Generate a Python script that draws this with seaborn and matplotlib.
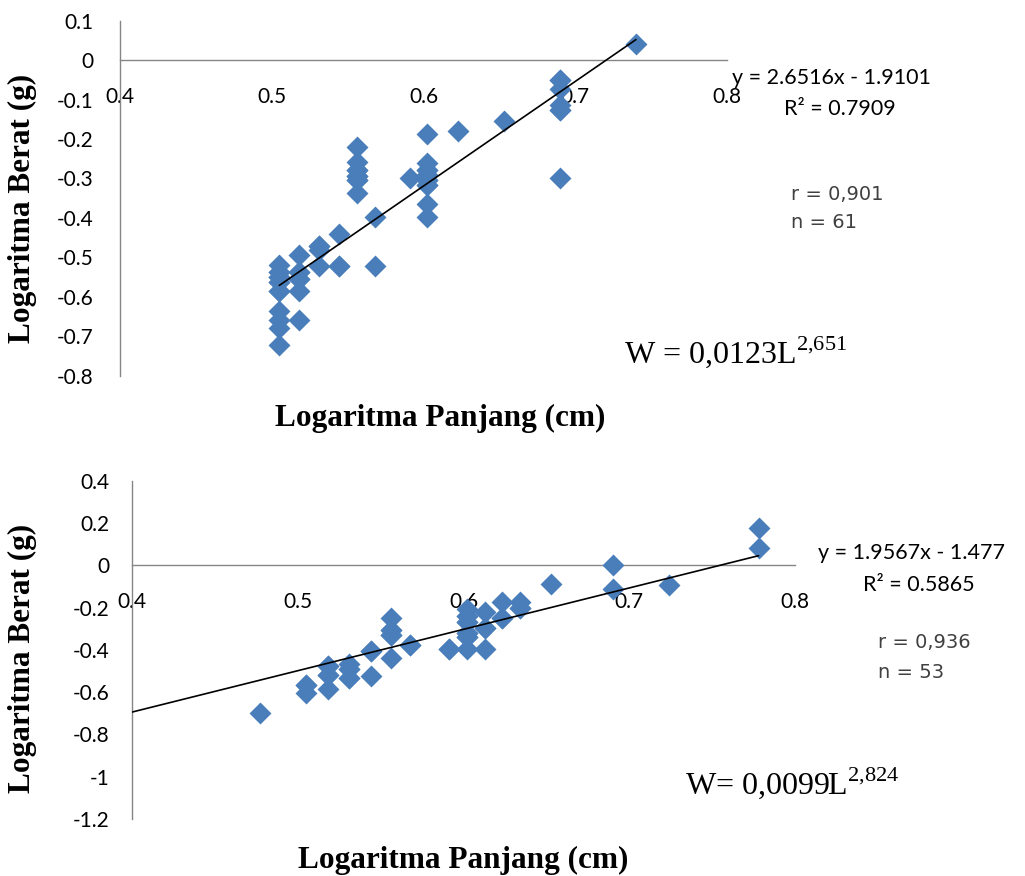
import numpy as np
import pandas as pd
import seaborn as sns
import matplotlib
matplotlib.use("Agg")
import matplotlib.pyplot as plt

# ---------------- data ----------------
top_log_length = [
    0.740,
    0.690, 0.690, 0.690, 0.690, 0.690,
    0.653, 0.623, 0.602, 0.591,
    0.602, 0.602, 0.602, 0.602, 0.602, 0.602, 0.602,
    0.556, 0.556, 0.556, 0.556, 0.556, 0.556,
    0.568, 0.568,
    0.544, 0.544,
    0.531, 0.531, 0.531,
    0.518, 0.518, 0.518, 0.518, 0.518,
    0.505, 0.505, 0.505, 0.505, 0.505, 0.505, 0.505, 0.505, 0.505,
    # overlapping (hidden) observations
    0.505, 0.505, 0.505, 0.505, 0.518, 0.518, 0.556, 0.556, 0.556,
    0.602, 0.602, 0.602, 0.602, 0.531, 0.690, 0.690, 0.544,
]
top_log_weight = [
    0.042,
    -0.051, -0.072, -0.114, -0.127, -0.300,
    -0.154, -0.180, -0.186, -0.300,
    -0.262, -0.279, -0.292, -0.305, -0.317, -0.364, -0.398,
    -0.220, -0.258, -0.279, -0.294, -0.305, -0.338,
    -0.398, -0.523,
    -0.442, -0.523,
    -0.470, -0.482, -0.523,
    -0.493, -0.537, -0.554, -0.586, -0.658,
    -0.520, -0.537, -0.550, -0.563, -0.586, -0.635, -0.658, -0.678, -0.723,
    -0.537, -0.550, -0.563, -0.586, -0.537, -0.554, -0.279, -0.294, -0.305,
    -0.279, -0.292, -0.305, -0.317, -0.470, -0.051, -0.127, -0.523,
]
top_slope, top_intercept = 2.6516, -1.9101

bottom_log_length = [
    0.477,
    0.505, 0.505,
    0.518, 0.518, 0.518,
    0.531, 0.531, 0.531,
    0.544, 0.544,
    0.556, 0.556, 0.556, 0.556,
    0.568, 0.591,
    0.602, 0.602, 0.602, 0.602, 0.602, 0.602,
    0.613, 0.613, 0.613,
    0.623, 0.623,
    0.634, 0.634,
    0.653,
    0.690, 0.690,
    0.724,
    0.778, 0.778,
    # overlapping (hidden) observations
    0.602, 0.602, 0.602, 0.602, 0.613, 0.556, 0.556, 0.531, 0.531,
    0.518, 0.518, 0.505, 0.623, 0.634, 0.544, 0.568, 0.591,
]
bottom_log_weight = [
    -0.700,
    -0.565, -0.605,
    -0.476, -0.520, -0.585,
    -0.467, -0.490, -0.535,
    -0.405, -0.523,
    -0.248, -0.308, -0.330, -0.437,
    -0.379, -0.397,
    -0.209, -0.240, -0.270, -0.318, -0.338, -0.397,
    -0.220, -0.295, -0.397,
    -0.175, -0.248,
    -0.172, -0.200,
    -0.090,
    0.000, -0.112,
    -0.093,
    0.177, 0.084,
    -0.240, -0.270, -0.318, -0.338, -0.295, -0.308, -0.330, -0.490, -0.535,
    -0.520, -0.476, -0.565, -0.248, -0.200, -0.405, -0.379, -0.397,
]
bottom_slope, bottom_intercept = 1.9567, -1.477

x_ticks = [0.4, 0.5, 0.6, 0.7, 0.8]
x_ticklabels = ["0.4", "0.5", "0.6", "0.7", "0.8"]
top_y_ticks = [0.1, 0.0, -0.1, -0.2, -0.3, -0.4, -0.5, -0.6, -0.7, -0.8]
top_y_ticklabels = ["0.1", "0", "-0.1", "-0.2", "-0.3", "-0.4", "-0.5", "-0.6", "-0.7", "-0.8"]
bottom_y_ticks = [0.4, 0.2, 0.0, -0.2, -0.4, -0.6, -0.8, -1.0, -1.2]
bottom_y_ticklabels = ["0.4", "0.2", "0", "-0.2", "-0.4", "-0.6", "-0.8", "-1", "-1.2"]

x_label = "Logaritma Panjang (cm)"
y_label = "Logaritma Berat (g)"

# ---------------- style ----------------
sns.set_style("white")
plt.rcParams["font.family"] = ["Lato", "DejaVu Sans"]
plt.rcParams["axes.unicode_minus"] = False
plt.rcParams["mathtext.fontset"] = "custom"
plt.rcParams["mathtext.rm"] = "Liberation Serif"

W, H = 1025, 876
fig = plt.figure(figsize=(W / 100, H / 100), dpi=100)

BLUE = "#4A7EBB"
AXC = "#868686"


def fx(px):
    return px / W


def fy(py):
    return 1 - py / H


def style_axis(ax, xlim, ylim, yt, ytl, ypad):
    ax.set_xlim(*xlim)
    ax.set_ylim(*ylim)
    ax.spines["top"].set_visible(False)
    ax.spines["right"].set_visible(False)
    ax.spines["bottom"].set_position(("data", 0))
    for s in ("left", "bottom"):
        ax.spines[s].set_color(AXC)
        ax.spines[s].set_linewidth(1.0)
    ax.set_xticks(x_ticks)
    ax.set_xticklabels(x_ticklabels)
    ax.set_yticks(yt)
    ax.set_yticklabels(ytl)
    ax.tick_params(axis="x", direction="out", length=5, width=1.0, color=AXC,
                   labelsize=15, pad=14, labelcolor="black")
    ax.tick_params(axis="y", direction="out", length=5, width=1.0, color=AXC,
                   labelsize=15, pad=ypad, labelcolor="black")
    ax.set_xlabel("")
    ax.set_ylabel("")
    ax.set_facecolor("none")


# ---------------- top chart ----------------
ax1 = fig.add_axes([fx(120), fy(375.7), fx(727) - fx(120), fy(20.7) - fy(375.7)])
sns.scatterplot(x=top_log_length, y=top_log_weight, ax=ax1, marker="D", s=125,
                color=BLUE, linewidth=0, zorder=3, legend=False)
tx = np.array([min(top_log_length), max(top_log_length)])
sns.lineplot(x=tx, y=top_slope * tx + top_intercept, ax=ax1, color="black",
             linewidth=1.2, estimator=None, zorder=4)
style_axis(ax1, (0.4, 0.8), (-0.8, 0.1), top_y_ticks, top_y_ticklabels, 14)

# ---------------- bottom chart ----------------
ax2 = fig.add_axes([fx(132), fy(819), fx(795) - fx(132), fy(480.7) - fy(819)])
sns.scatterplot(x=bottom_log_length, y=bottom_log_weight, ax=ax2, marker="D", s=125,
                color=BLUE, linewidth=0, zorder=3, legend=False)
bx = np.array([0.4, max(bottom_log_length)])
sns.lineplot(x=bx, y=bottom_slope * bx + bottom_intercept, ax=ax2, color="black",
             linewidth=1.2, estimator=None, zorder=4)
style_axis(ax2, (0.4, 0.8), (-1.2, 0.4), bottom_y_ticks, bottom_y_ticklabels, 11)

# ---------------- annotations ----------------
serif_bold = dict(family="Liberation Serif", fontweight="bold", fontsize=22.5, color="black")
fig.text(fx(22), fy(208), y_label, rotation=90, ha="center", va="center", **serif_bold)
fig.text(fx(440), fy(418), x_label, ha="center", va="center", **serif_bold)
fig.text(fx(22), fy(658), y_label, rotation=90, ha="center", va="center", **serif_bold)
fig.text(fx(463), fy(860), x_label, ha="center", va="center", **serif_bold)

eq = dict(fontsize=15.5, color="black", va="center")
fig.text(fx(732), fy(78), "y = 2.6516x - 1.9101", ha="left", **eq)
fig.text(fx(840), fy(109), "R² = 0.7909", ha="center", **eq)
fig.text(fx(818), fy(553), "y = 1.9567x - 1.477", ha="left", **eq)
fig.text(fx(919), fy(585), "R² = 0.5865", ha="center", **eq)

rn = dict(fontsize=14, color="#404040", va="center", ha="left", family="DejaVu Sans")
fig.text(fx(791), fy(195), "r = 0,901", **rn)
fig.text(fx(791), fy(222), "n = 61", **rn)
fig.text(fx(878), fy(643), "r = 0,936", **rn)
fig.text(fx(878), fy(673), "n = 53", **rn)

wf = dict(family="Liberation Serif", fontsize=23, color="black", va="center", ha="left")
fig.text(fx(624), fy(352), r"W = 0,0123L$^{\mathrm{2{,}651}}$", **wf)
fig.text(fx(685), fy(783), r"W= 0,0099L$^{\mathrm{2{,}824}}$", **wf)

fig.savefig("out.png", dpi=100, facecolor="white")
